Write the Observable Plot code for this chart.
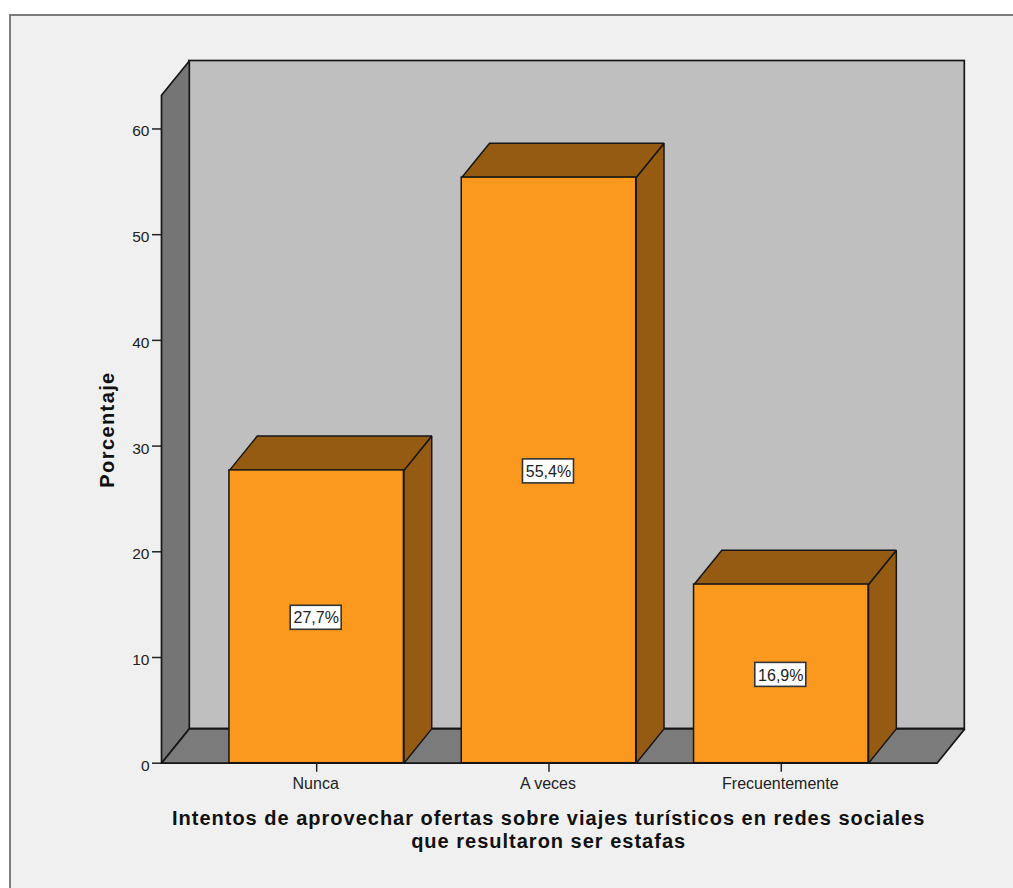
<!DOCTYPE html>
<html lang="es">
<head>
<meta charset="utf-8">
<script src="https://cdn.jsdelivr.net/npm/d3@7"></script>
<script src="https://cdn.jsdelivr.net/npm/@observablehq/plot@0.6"></script>
<style>
  html, body { margin: 0; padding: 0; background: #fff; overflow: hidden; }
  #panel { position: absolute; left: 8.5px; top: 13.5px; width: 1100px; height: 1000px;
           background: #f0f0f0; border: 2px solid #7c7c7c; box-sizing: border-box; }
  #chart { position: absolute; left: 0; top: 0; width: 1013px; height: 888px; }
  .title-x text { letter-spacing: 1px; }
  .title-y text { letter-spacing: 1.4px; }
</style>
</head>
<body>
<div id="panel"></div>
<div id="chart"></div>
<script>
// Survey responses, share of respondents in percent
const categories = ["Nunca", "A veces", "Frecuentemente"];
const percentages = [27.7, 55.4, 16.9];
const valueLabels = ["27,7%", "55,4%", "16,9%"];
const yTicks = [0, 10, 20, 30, 40, 50, 60];

// Extent of the box in scale units
const xMin = -0.668, xMax = 2.79, yMax = 66.43;
// Oblique offset of the depth axis, and half the bar width
const depthX = 0.1197, depthY = 3.245, halfBar = 0.3755;
const xPx = 232.3, yPx = 10.57;

const colors = { wall: "#bfbfbf", side: "#757575", floor: "#7b7b7b",
                 bar: "#fb991e", barDark: "#965b12", edge: "#161616" };

const toPoints = (face, corners) =>
  [...corners, corners[0]].map(([x, y]) => ({ face, x, y }));

const leftWall = toPoints("left", [
  [xMin, 0], [xMin + depthX, depthY], [xMin + depthX, yMax], [xMin, yMax - depthY]
]);
const floor = toPoints("floor", [
  [xMin, 0], [xMax - depthX, 0], [xMax, depthY], [xMin + depthX, depthY]
]);
const bars = percentages.map((value, i) => ({ i, value, label: valueLabels[i] }));
const barTops = bars.flatMap(({ i, value }) => toPoints(`top${i}`, [
  [i - halfBar, value], [i + halfBar, value],
  [i + halfBar + depthX, value + depthY], [i - halfBar + depthX, value + depthY]
]));
const barSides = bars.flatMap(({ i, value }) => toPoints(`side${i}`, [
  [i + halfBar, 0], [i + halfBar + depthX, depthY],
  [i + halfBar + depthX, value + depthY], [i + halfBar, value]
]));

const face = (points, fill, strokeWidth = 1.7) => Plot.line(points, {
  x: "x", y: "y", z: "face", fill, stroke: colors.edge, strokeWidth,
  strokeLinejoin: "miter"
});

const chart = Plot.plot({
  width: 1013,
  height: 888,
  marginLeft: 161,
  marginRight: 48.7,
  marginTop: 60.5,
  marginBottom: 125.3,
  style: { background: "transparent", fontFamily: "'Liberation Sans', Arial, sans-serif", color: "#222" },
  x: { domain: [xMin, xMax], axis: null },
  y: { domain: [0, yMax], axis: null },
  marks: [
    // Box: back wall, side wall, floor
    Plot.rect([{}], { x1: xMin + depthX, x2: xMax, y1: depthY, y2: yMax,
      fill: colors.wall, stroke: colors.edge, strokeWidth: 1.7 }),
    face(leftWall, colors.side),
    face(floor, colors.floor),

    // Bars: top and side faces first, then the front
    face(barSides, colors.barDark, 1.5),
    face(barTops, colors.barDark, 1.5),
    Plot.rect(bars, { x1: d => d.i - halfBar, x2: d => d.i + halfBar, y1: 0, y2: "value",
      fill: colors.bar, stroke: colors.edge, strokeWidth: 1.5 }),

    // Value labels in white boxes at mid-height
    Plot.rect(bars, {
      x1: d => d.i - 25.5 / xPx, x2: d => d.i + 25.5 / xPx,
      y1: d => d.value / 2 - 12 / yPx, y2: d => d.value / 2 + 12 / yPx,
      dx: -0.5, dy: 1,
      fill: "white", stroke: "#333", strokeWidth: 1.6
    }),
    Plot.text(bars, { x: "i", y: d => d.value / 2, dx: -0.5, dy: 1.5, text: "label", fontSize: 16, fill: "#222" }),

    // Axes
    Plot.axisY(yTicks, { anchor: "left", tickSize: 9, text: null, label: null, stroke: "#222", strokeWidth: 1.5 }),
    Plot.axisY(yTicks, { anchor: "left", tickSize: 0, tickPadding: 12, dy: 2.5, label: null, fontSize: 15.5 }),
    Plot.axisX([0, 1, 2], { anchor: "bottom", tickSize: 9, text: null, label: null, stroke: "#222", strokeWidth: 1.5 }),
    Plot.axisX([0, 1, 2], { anchor: "bottom", tickSize: 0, tickPadding: 14, dx: -1, label: null, fontSize: 16,
      tickFormat: i => categories[i] }),

    // Axis titles
    Plot.text(["Porcentaje"], { frameAnchor: "left", textAnchor: "middle", dx: -54, dy: 17.4, rotate: -90,
      fontSize: 20, fontWeight: "bold", fill: "#111", className: "title-y" }),
    Plot.text(["Intentos de aprovechar ofertas sobre viajes turísticos en redes sociales\nque resultaron ser estafas"], {
      frameAnchor: "bottom", dx: -14.5, dy: 85, lineHeight: 1.15,
      fontSize: 20, fontWeight: "bold", fill: "#111", className: "title-x" })
  ]
});
document.getElementById("chart").append(chart);
</script>
</body>
</html>
